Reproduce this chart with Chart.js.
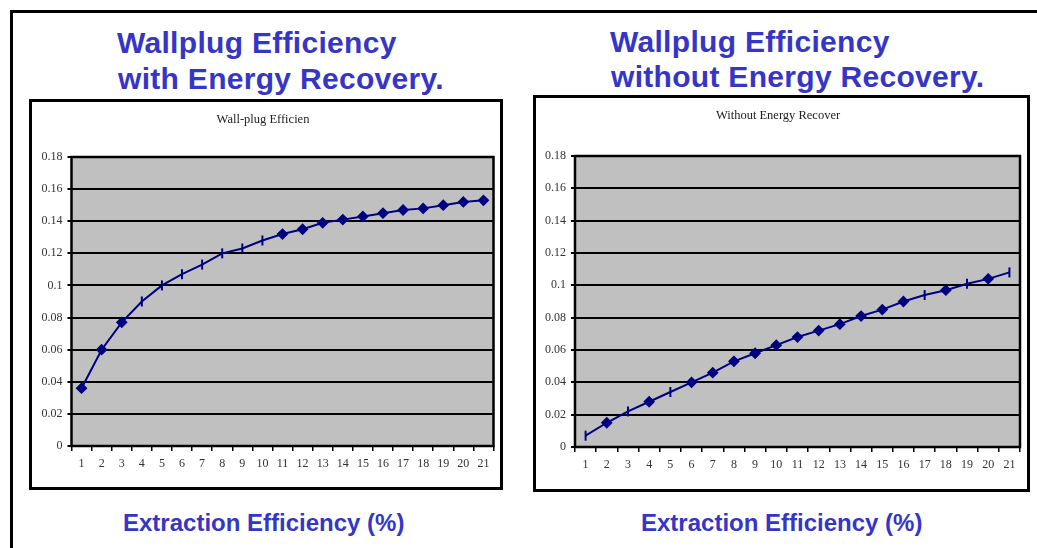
<!DOCTYPE html>
<html>
<head>
<meta charset="utf-8">
<script src="https://cdn.jsdelivr.net/npm/chart.js@4.4.1/dist/chart.umd.min.js"></script>
<style>
  html, body { margin: 0; padding: 0; background: #fff; overflow: hidden; }
  body { width: 1037px; height: 548px; position: relative; }
  .frame { position: absolute; left: 10px; top: 10px; width: 1100px; height: 600px;
           border-top: 3px solid #000; border-left: 3px solid #000; }
  .box { position: absolute; border: 3px solid #000; background: #fff; }
  .box canvas { display: block; }
  .heading { position: absolute; white-space: nowrap; color: #3535c8;
             font-family: "Liberation Sans", Arial, sans-serif; font-weight: bold; }
  .h1 { font-size: 30px; line-height: 30px; letter-spacing: 0.3px; }
  .h2 { font-size: 24px; line-height: 24px; }
</style>
</head>
<body>
<div class="frame"></div>

<div class="heading h1" style="left:117px; top:28px;">Wallplug Efficiency</div>
<div class="heading h1" style="left:118px; top:64px;">with Energy Recovery.</div>
<div class="heading h1" style="left:610px; top:27px;">Wallplug Efficiency</div>
<div class="heading h1" style="left:611px; top:62px;">without Energy Recovery.</div>

<div class="box" style="left:29px; top:99px; width:468px; height:385px;">
  <canvas id="chartWith" width="468" height="385"></canvas>
</div>
<div class="box" style="left:533px; top:95px; width:491px; height:391px;">
  <canvas id="chartWithout" width="491" height="391"></canvas>
</div>

<div class="heading h2" style="left:123px; top:511px;">Extraction Efficiency (%)</div>
<div class="heading h2" style="left:641px; top:511px;">Extraction Efficiency (%)</div>

<script>
// Extraction efficiency steps (category axis)
const categories = ['1','2','3','4','5','6','7','8','9','10','11','12','13','14','15','16','17','18','19','20','21'];

// Wall-plug efficiency with energy recovery
const withRecovery = [0.036, 0.060, 0.077, 0.090, 0.100, 0.107, 0.113, 0.120, 0.123, 0.128, 0.132,
                      0.135, 0.139, 0.141, 0.143, 0.145, 0.147, 0.148, 0.150, 0.152, 0.153];

// Wall-plug efficiency without energy recovery
const withoutRecovery = [0.007, 0.015, 0.022, 0.028, 0.034, 0.040, 0.046, 0.053, 0.058, 0.063, 0.068,
                         0.072, 0.076, 0.081, 0.085, 0.090, 0.094, 0.097, 0.101, 0.104, 0.108];

// Y axis range and step
const yMin = 0, yMax = 0.18, yStep = 0.02;

// Marker shape per point: D = diamond, T = vertical dash
const markersWith    = 'DDDTTTTTTTDDDDDDDDDDD';
const markersWithout = 'TDTDTDDDDDDDDDDDTDTDT';

const NAVY = '#000080';
const serif = '"Liberation Serif", "Times New Roman", serif';

// Grey plot background and black frame around the plot area
const plotFrame = {
  id: 'plotFrame',
  beforeDraw(chart) {
    const { ctx, chartArea: a } = chart;
    ctx.save();
    ctx.fillStyle = '#c0c0c0';
    ctx.fillRect(a.left, a.top, a.right - a.left, a.bottom - a.top);
    ctx.restore();
  },
  beforeDatasetsDraw(chart) {
    const { ctx, chartArea: a } = chart;
    ctx.save();
    ctx.strokeStyle = '#000';
    ctx.lineWidth = 2.5;
    ctx.strokeRect(a.left, a.top, a.right - a.left, a.bottom - a.top);
    ctx.restore();
  }
};

function makeChart(id, title, values, markers, geom) {
  const styles = markers.split('').map(m => m === 'D' ? 'rectRot' : 'line');
  const rotations = markers.split('').map(m => m === 'D' ? 0 : 90);
  const radii = markers.split('').map(m => m === 'D' ? 4.5 : 5);
  return new Chart(document.getElementById(id), {
    type: 'line',
    data: {
      labels: categories,
      datasets: [{
        data: values,
        borderColor: NAVY,
        backgroundColor: NAVY,
        borderWidth: 2,
        tension: 0,
        pointStyle: styles,
        rotation: rotations,
        pointRadius: radii,
        pointBorderWidth: 2,
        pointBorderColor: NAVY,
        pointBackgroundColor: NAVY
      }]
    },
    options: {
      responsive: false,
      animation: false,
      devicePixelRatio: 1,
      layout: { padding: { left: 0, right: geom.right, top: 0, bottom: 0 } },
      plugins: {
        legend: { display: false },
        tooltip: { enabled: false },
        title: {
          display: true,
          text: title,
          color: '#222',
          font: { family: serif, size: 12.5, weight: 'normal', lineHeight: 1.2 },
          padding: { top: 10.5, bottom: geom.titleBottom }
        }
      },
      scales: {
        x: {
          type: 'category',
          offset: true,
          afterFit(s) { s.height = geom.xHeight; },
          grid: { offset: true, drawOnChartArea: false, drawTicks: true, tickLength: 5,
                  color: '#000', lineWidth: 1.5 },
          border: { display: false },
          ticks: { autoSkip: false, maxRotation: 0, padding: 6, color: '#333',
                   font: { family: serif, size: 12 } }
        },
        y: {
          min: yMin, max: yMax,
          afterFit(s) { s.width = geom.yWidth; },
          grid: { color: '#000', lineWidth: 2, drawTicks: true, tickLength: 4 },
          border: { display: false },
          ticks: { stepSize: yStep, padding: 5, color: '#333',
                   font: { family: serif, size: 12 },
                   callback: v => String(Number(v.toFixed(2))) }
        }
      }
    },
    plugins: [plotFrame]
  });
}

makeChart('chartWith', 'Wall-plug Efficien', withRecovery, markersWith,
  { right: 6, titleBottom: 29.5, xHeight: 41, yWidth: 39.5 });
makeChart('chartWithout', 'Without Energy Recover', withoutRecovery, markersWithout,
  { right: 7, titleBottom: 32.5, xHeight: 42, yWidth: 39 });
</script>
</body>
</html>
